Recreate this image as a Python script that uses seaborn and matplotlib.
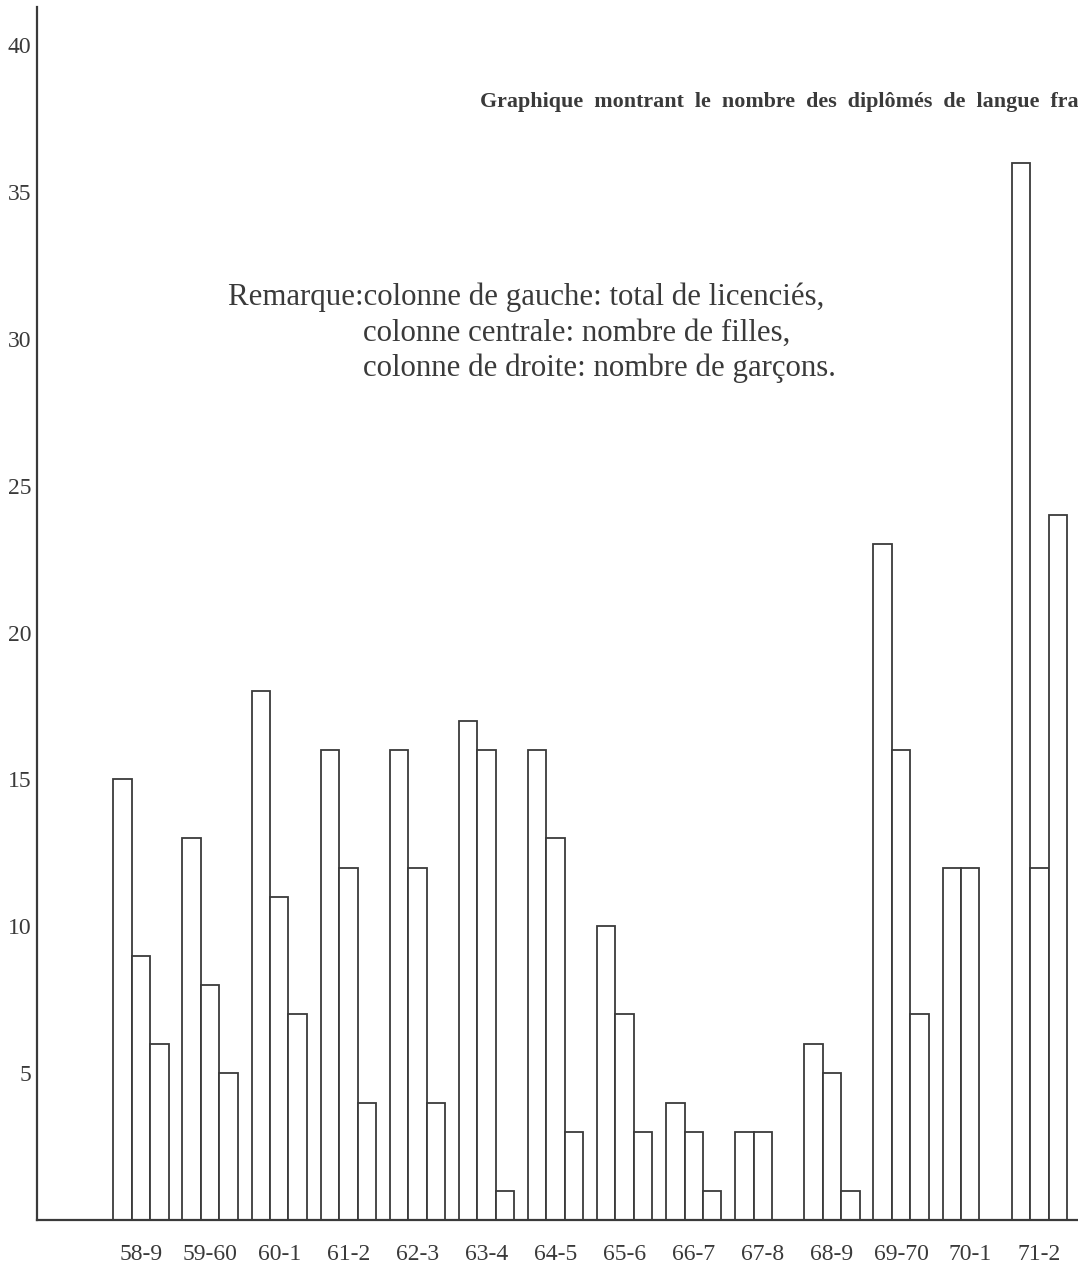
import pandas as pd
import matplotlib.pyplot as plt
import seaborn as sns

# Données
periodes = ['58-9', '59-60', '60-1', '61-2', '62-3', '63-4', '64-5',
            '65-6', '66-7', '67-8', '68-9', '69-70', '70-1', '71-2']
total = [15, 13, 18, 16, 16, 17, 16, 10, 4, 3, 6, 23, 12, 36]
filles = [9, 8, 11, 12, 12, 16, 13, 7, 3, 3, 5, 16, 12, 12]
garcons = [6, 5, 7, 4, 4, 1, 3, 3, 1, 0, 1, 7, 0, 24]
yticks = [5, 10, 15, 20, 25, 30, 35, 40]

df = pd.DataFrame({
    'periode': periodes * 3,
    'serie': ['total'] * 14 + ['filles'] * 14 + ['garcons'] * 14,
    'valeur': total + filles + garcons,
})

sns.set_style('white')
plt.rcParams['font.family'] = ['Liberation Serif', 'DejaVu Serif']
ink = '#3a3a3a'

fig = plt.figure(figsize=(10.78, 12.65), dpi=100)
ax = fig.add_axes([37 / 1078, (1265 - 1220) / 1265, 1041 / 1078, 1213 / 1265])

sns.barplot(data=df, x='periode', y='valeur', hue='serie', order=periodes,
            palette=['white'] * 3, edgecolor=ink, linewidth=1.3,
            width=0.8, legend=False, ax=ax)

ax.set_xlim(-1.505, 13.56)
ax.set_ylim(0, 41.3)
ax.set_yticks(yticks)
ax.set_yticklabels([str(t) for t in yticks], fontsize=17, color=ink)
ax.tick_params(axis='y', direction='in', length=4, width=1.2, color=ink, pad=4)
ax.tick_params(axis='x', length=0, pad=17, labelsize=17, labelcolor=ink)
ax.set_xlabel('')
ax.set_ylabel('')

for side in ['top', 'right']:
    ax.spines[side].set_visible(False)
for side in ['left', 'bottom']:
    ax.spines[side].set_color(ink)
    ax.spines[side].set_linewidth(1.6)

# Titre (coupé dans l'original)
fig.text(480 / 1078, 1 - 102 / 1265,
         'Graphique  montrant  le  nombre  des  diplômés  de  langue  fra',
         fontsize=15.8, fontweight='bold', color=ink, va='center', ha='left')

# Remarque
fs = 22.2
fig.text(228 / 1078, 1 - 297 / 1265,
         'Remarque:colonne de gauche: total de licenciés,',
         fontsize=fs, color=ink, va='center', ha='left')
fig.text(363 / 1078, 1 - 333 / 1265,
         'colonne centrale: nombre de filles,',
         fontsize=fs, color=ink, va='center', ha='left')
fig.text(363 / 1078, 1 - 368 / 1265,
         'colonne de droite: nombre de garçons.',
         fontsize=fs, color=ink, va='center', ha='left')

fig.savefig('out.png', dpi=100, facecolor='white')
